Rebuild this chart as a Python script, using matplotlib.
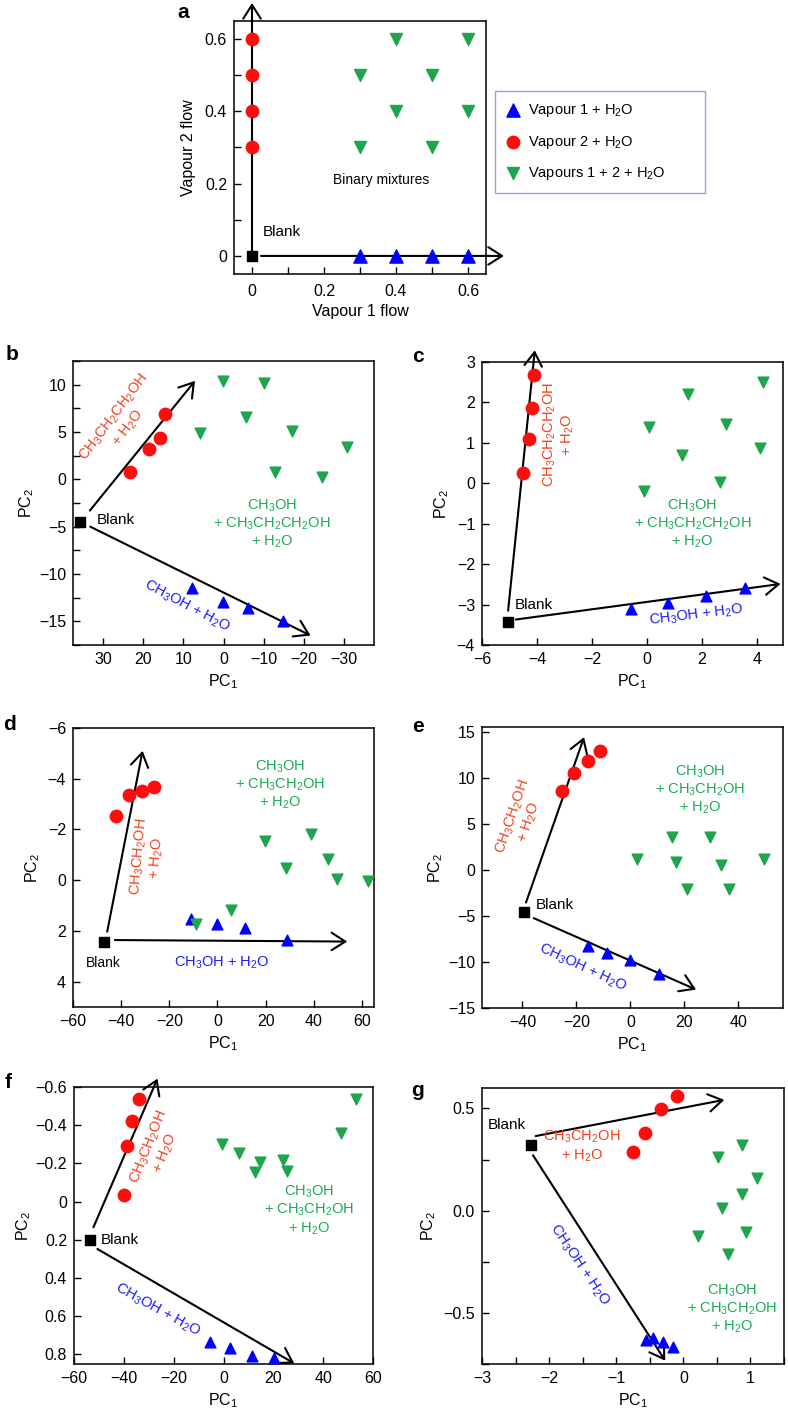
import matplotlib
matplotlib.use("Agg")
import matplotlib.pyplot as plt
from matplotlib.ticker import MultipleLocator

plt.rcParams['font.family'] = ['Liberation Sans', 'DejaVu Sans']
plt.rcParams['mathtext.fontset'] = 'custom'
plt.rcParams['mathtext.rm'] = 'Liberation Sans'
plt.rcParams['mathtext.it'] = 'Liberation Sans:italic'
plt.rcParams['mathtext.bf'] = 'Liberation Sans:bold'

RED = '#ff0d0d'
BLUE = '#0000ff'
GREEN = '#1ea54e'
RED_TXT = '#f2401f'
GREEN_TXT = '#1aaa55'
BLUE_TXT = '#1a1aff'

# ---- panel a: experiment design ----
a_red_x = [0, 0, 0, 0]
a_red_y = [0.3, 0.4, 0.5, 0.6]
a_blue_x = [0.3, 0.4, 0.5, 0.6]
a_blue_y = [0, 0, 0, 0]
a_green_x = [0.3, 0.5, 0.4, 0.6, 0.4, 0.6, 0.3, 0.5]
a_green_y = [0.5, 0.5, 0.6, 0.6, 0.4, 0.4, 0.3, 0.3]
a_arrows = [(0, 0, 0, 0.70), (0.025, 0, 0.70, 0)]
legend_labels = ['Vapour 1 + H$_2$O', 'Vapour 2 + H$_2$O', 'Vapours 1 + 2 + H$_2$O']

# ---- panel b ----
b_blank = (35.7, -4.5)
b_red = [(23.2, 0.8), (18.6, 3.2), (15.7, 4.4), (14.6, 6.9)]
b_blue = [(7.9, -11.5), (0.1, -13.0), (-6.2, -13.6), (-14.8, -15.0)]
b_green = [(0.2, 10.4), (-10.2, 10.2), (5.8, 4.9), (-5.6, 6.6),
           (-17.0, 5.1), (-30.8, 3.4), (-12.9, 0.8), (-24.5, 0.2)]
b_arrows = [(33.3, -3.3, 7.1, 10.4), (33.2, -5.0, -21.7, -16.5)]

# ---- panel c ----
c_blank = (-5.04, -3.42)
c_red = [(-4.5, 0.25), (-4.29, 1.10), (-4.19, 1.85), (-4.11, 2.67)]
c_blue = [(-0.58, -3.11), (0.78, -2.96), (2.16, -2.80), (3.56, -2.58)]
c_green = [(-0.1, -0.19), (0.06, 1.38), (1.29, 0.70), (1.49, 2.22),
           (2.67, 0.03), (2.86, 1.47), (4.13, 0.88), (4.22, 2.5)]
c_arrows = [(-5.05, -3.15, -4.08, 3.29), (-4.77, -3.37, 4.86, -2.49)]

# ---- panel d ----
d_blank = (-47.0, 2.42)
d_red = [(-42.3, -2.54), (-36.9, -3.34), (-31.5, -3.51), (-26.4, -3.69)]
d_blue = [(-11.1, 1.54), (0.0, 1.72), (11.5, 1.89), (28.8, 2.36)]
d_green = [(19.9, -1.56), (39.0, -1.84), (28.3, -0.5), (45.9, -0.85),
           (49.6, -0.05), (62.4, 0.05), (5.6, 1.17), (-9.1, 1.71)]
d_arrows = [(-45.8, 2.03, -31.1, -5.1), (-42.6, 2.36, 53.9, 2.42)]

# ---- panel e ----
e_blank = (-39.3, -4.54)
e_red = [(-25.3, 8.57), (-21.1, 10.5), (-15.8, 11.8), (-11.3, 12.9)]
e_blue = [(-15.8, -8.27), (-8.6, -8.98), (-0.3, -9.79), (10.6, -11.35)]
e_green = [(2.5, 1.13), (15.2, 3.54), (16.8, 0.88), (29.5, 3.54),
           (33.5, 0.56), (49.3, 1.13), (20.9, -2.13), (36.5, -2.06)]
e_arrows = [(-38.7, -3.55, -17.2, 14.4), (-35.8, -5.25, 24.3, -13.0)]

# ---- panel f ----
f_blank = (-53.7, 0.203)
f_red = [(-39.8, -0.035), (-38.8, -0.292), (-36.7, -0.423), (-34.0, -0.536)]
f_blue = [(-5.4, 0.736), (2.5, 0.765), (11.6, 0.809), (20.1, 0.817)]
f_green = [(53.1, -0.536), (47.1, -0.357), (-0.7, -0.301), (6.4, -0.252),
           (14.5, -0.209), (12.7, -0.157), (23.9, -0.218), (25.3, -0.162)]
f_arrows = [(-52.2, 0.134, -26.5, -0.644), (-50.6, 0.248, 28.4, 0.847)]

# ---- panel g ----
g_blank = (-2.27, 0.323)
g_red = [(-0.75, 0.287), (-0.57, 0.379), (-0.34, 0.498), (-0.09, 0.559)]
g_blue = [(-0.55, -0.632), (-0.45, -0.621), (-0.31, -0.640), (-0.16, -0.665)]
g_green = [(0.87, 0.323), (0.51, 0.263), (1.10, 0.161), (0.87, 0.081),
           (0.58, 0.015), (0.22, -0.123), (0.93, -0.104), (0.66, -0.21)]
g_arrows = [(-2.2, 0.365, 0.61, 0.542), (-2.24, 0.271, -0.27, -0.734)]

W, H = 788, 1419
fig = plt.figure(figsize=(W / 100, H / 100), dpi=100)


def axes_px(left, top, right, bottom):
    return fig.add_axes([left / W, 1 - bottom / H, (right - left) / W, (bottom - top) / H])


def style_axes(ax):
    for s in ax.spines.values():
        s.set_linewidth(1.1)
    ax.tick_params(direction='in', length=5, width=1.0, labelsize=11.5, pad=5)
    ax.tick_params(which='minor', direction='in', length=5, width=1.0)


def draw_arrows(ax, arrows):
    for x0, y0, x1, y1 in arrows:
        ax.annotate('', xy=(x1, y1), xytext=(x0, y0), annotation_clip=False,
                    arrowprops=dict(arrowstyle='->,head_length=0.55,head_width=0.35',
                                    lw=1.5, color='black', shrinkA=0, shrinkB=0,
                                    mutation_scale=18, clip_on=False))


def draw_points(ax, blank, red, blue, green, arrows):
    draw_arrows(ax, arrows)
    ax.scatter([p[0] for p in red], [p[1] for p in red], s=80, marker='o', color=RED, zorder=3)
    ax.scatter([p[0] for p in blue], [p[1] for p in blue], s=60, marker='^', color=BLUE, zorder=3)
    ax.scatter([p[0] for p in green], [p[1] for p in green], s=60, marker='v', color=GREEN, zorder=3)
    ax.scatter([blank[0]], [blank[1]], s=50, marker='s', color='black', zorder=4)


# ===== panel a =====
ax = axes_px(234, 21, 486, 274)
style_axes(ax)
ax.tick_params(axis='x', pad=7)
draw_arrows(ax, a_arrows)
h1 = ax.scatter(a_blue_x, a_blue_y, s=90, marker='^', color=BLUE, zorder=3)
h2 = ax.scatter(a_red_x, a_red_y, s=80, marker='o', color=RED, zorder=3)
h3 = ax.scatter(a_green_x, a_green_y, s=75, marker='v', color=GREEN, zorder=3)
ax.scatter([0], [0], s=55, marker='s', color='black', zorder=4)
ax.set_xlim(-0.05, 0.65)
ax.set_ylim(-0.05, 0.65)
ax.set_xticks([0, 0.2, 0.4, 0.6])
ax.set_xticklabels(['0', '0.2', '0.4', '0.6'])
ax.set_yticks([0, 0.2, 0.4, 0.6])
ax.set_yticklabels(['0', '0.2', '0.4', '0.6'])
ax.xaxis.set_minor_locator(MultipleLocator(0.1))
ax.yaxis.set_minor_locator(MultipleLocator(0.1))
ax.set_xlabel('Vapour 1 flow', fontsize=11.5, labelpad=4)
ax.set_ylabel('Vapour 2 flow', fontsize=11.5, labelpad=6)
ax.text(0.03, 0.065, 'Blank', fontsize=11, ha='left', va='center')
ax.text(0.36, 0.21, 'Binary mixtures', fontsize=10, ha='center', va='center')
leg = fig.legend([h1, h2, h3], legend_labels, loc='upper left', mode='expand',
                 bbox_to_anchor=(495 / W, 1 - 195 / H, 210 / W, 104 / H),
                 bbox_transform=fig.transFigure, borderaxespad=0,
                 fontsize=10.5, frameon=True, fancybox=False, handletextpad=0.5,
                 labelspacing=1.0, handlelength=1.0, borderpad=0.75, scatterpoints=1)
leg.get_frame().set_edgecolor('#6f8fd9')
leg.get_frame().set_linewidth(1.0)
fig.text(183 / W, 1 - 12 / H, 'a', fontsize=15, fontweight='bold', ha='center', va='center')

# ===== panel b =====
ax = axes_px(73, 361, 374, 645)
style_axes(ax)
draw_points(ax, b_blank, b_red, b_blue, b_green, b_arrows)
ax.set_xlim(37.5, -37.5)
ax.set_ylim(-17.5, 12.5)
ax.set_xticks([30, 20, 10, 0, -10, -20, -30])
ax.set_xticklabels(['30', '20', '10', '0', '\u221210', '\u221220', '\u221230'])
ax.set_yticks([10, 5, 0, -5, -10, -15])
ax.set_yticklabels(['10', '5', '0', '\u22125', '\u221210', '\u221215'])
ax.yaxis.set_minor_locator(MultipleLocator(2.5))
ax.set_xlabel('PC$_1$', fontsize=11.5)
ax.set_ylabel('PC$_2$', fontsize=11.5, labelpad=2)
ax.text(31.5, -4.3, 'Blank', fontsize=11, ha='left', va='center')
ax.text(25.5, 6.0, 'CH$_3$CH$_2$CH$_2$OH\n+ H$_2$O', color=RED_TXT, fontsize=10.5,
        ha='center', va='center', rotation=53, rotation_mode='anchor', linespacing=1.1)
ax.text(-12, -4.7, 'CH$_3$OH\n+ CH$_3$CH$_2$CH$_2$OH\n+ H$_2$O', color=GREEN_TXT,
        fontsize=10.5, ha='center', va='center', linespacing=1.15)
ax.text(9.0, -13.4, 'CH$_3$OH + H$_2$O', color=BLUE_TXT, fontsize=10.5,
        ha='center', va='center', rotation=-28, rotation_mode='anchor')
fig.text(12 / W, 1 - 355 / H, 'b', fontsize=15, fontweight='bold', ha='center', va='center')

# ===== panel c =====
ax = axes_px(482, 362, 783, 645)
style_axes(ax)
draw_points(ax, c_blank, c_red, c_blue, c_green, c_arrows)
ax.set_xlim(-6, 4.95)
ax.set_ylim(-4, 3)
ax.set_xticks([-6, -4, -2, 0, 2, 4])
ax.set_xticklabels(['\u22126', '\u22124', '\u22122', '0', '2', '4'])
ax.set_yticks([3, 2, 1, 0, -1, -2, -3, -4])
ax.set_yticklabels(['3', '2', '1', '0', '\u22121', '\u22122', '\u22123', '\u22124'])
ax.set_xlabel('PC$_1$', fontsize=11.5)
ax.set_ylabel('PC$_2$', fontsize=11.5, labelpad=4)
ax.text(-4.82, -3.0, 'Blank', fontsize=11, ha='left', va='center')
ax.text(-3.2, 1.2, 'CH$_3$CH$_2$CH$_2$OH\n+ H$_2$O', color=RED_TXT, fontsize=10.5,
        ha='center', va='center', rotation=90, rotation_mode='anchor', linespacing=1.1)
ax.text(1.65, -1.0, 'CH$_3$OH\n+ CH$_3$CH$_2$CH$_2$OH\n+ H$_2$O', color=GREEN_TXT,
        fontsize=10.5, ha='center', va='center', linespacing=1.15)
ax.text(1.8, -3.25, 'CH$_3$OH + H$_2$O', color=BLUE_TXT, fontsize=10.5,
        ha='center', va='center', rotation=7, rotation_mode='anchor')
fig.text(418 / W, 1 - 357 / H, 'c', fontsize=15, fontweight='bold', ha='center', va='center')

# ===== panel d =====
ax = axes_px(73, 728, 374, 1007)
style_axes(ax)
draw_points(ax, d_blank, d_red, d_blue, d_green, d_arrows)
ax.set_xlim(-60, 65)
ax.set_ylim(5, -6)
ax.set_xticks([-60, -40, -20, 0, 20, 40, 60])
ax.set_xticklabels(['\u221260', '\u221240', '\u221220', '0', '20', '40', '60'])
ax.set_yticks([-6, -4, -2, 0, 2, 4])
ax.set_yticklabels(['\u22126', '\u22124', '\u22122', '0', '2', '4'])
ax.set_xlabel('PC$_1$', fontsize=11.5)
ax.set_ylabel('PC$_2$', fontsize=11.5, labelpad=4)
ax.text(-47.5, 3.25, 'Blank', fontsize=10, ha='center', va='center')
ax.text(-28.8, -0.9, 'CH$_3$CH$_2$OH\n+ H$_2$O', color=RED_TXT, fontsize=10.5,
        ha='center', va='center', rotation=85, rotation_mode='anchor', linespacing=1.1)
ax.text(26, -3.75, 'CH$_3$OH\n+ CH$_3$CH$_2$OH\n+ H$_2$O', color=GREEN_TXT,
        fontsize=10.5, ha='center', va='center', linespacing=1.15)
ax.text(1.6, 3.27, 'CH$_3$OH + H$_2$O', color=BLUE_TXT, fontsize=10.5,
        ha='center', va='center')
fig.text(10 / W, 1 - 724 / H, 'd', fontsize=15, fontweight='bold', ha='center', va='center')

# ===== panel e =====
ax = axes_px(482, 727, 783, 1008)
style_axes(ax)
draw_points(ax, e_blank, e_red, e_blue, e_green, e_arrows)
ax.set_xlim(-55, 56.5)
ax.set_ylim(-15, 15.5)
ax.set_xticks([-40, -20, 0, 20, 40])
ax.set_xticklabels(['\u221240', '\u221220', '0', '20', '40'])
ax.set_yticks([15, 10, 5, 0, -5, -10, -15])
ax.set_yticklabels(['15', '10', '5', '0', '\u22125', '\u221210', '\u221215'])
ax.set_xlabel('PC$_1$', fontsize=11.5)
ax.set_ylabel('PC$_2$', fontsize=11.5, labelpad=2)
ax.text(-35, -3.8, 'Blank', fontsize=11, ha='left', va='center')
ax.text(-40.5, 5.4, 'CH$_3$CH$_2$OH\n+ H$_2$O', color=RED_TXT, fontsize=10.5,
        ha='center', va='center', rotation=71, rotation_mode='anchor', linespacing=1.1)
ax.text(25.8, 8.7, 'CH$_3$OH\n+ CH$_3$CH$_2$OH\n+ H$_2$O', color=GREEN_TXT,
        fontsize=10.5, ha='center', va='center', linespacing=1.15)
ax.text(-17.6, -10.6, 'CH$_3$OH + H$_2$O', color=BLUE_TXT, fontsize=10.5,
        ha='center', va='center', rotation=-25, rotation_mode='anchor')
fig.text(418 / W, 1 - 726 / H, 'e', fontsize=15, fontweight='bold', ha='center', va='center')

# ===== panel f =====
ax = axes_px(74, 1087, 373, 1364)
style_axes(ax)
draw_points(ax, f_blank, f_red, f_blue, f_green, f_arrows)
ax.set_xlim(-60, 60)
ax.set_ylim(0.85, -0.6)
ax.set_xticks([-60, -40, -20, 0, 20, 40, 60])
ax.set_xticklabels(['\u221260', '\u221240', '\u221220', '0', '20', '40', '60'])
ax.set_yticks([-0.6, -0.4, -0.2, 0, 0.2, 0.4, 0.6, 0.8])
ax.set_yticklabels(['\u22120.6', '\u22120.4', '\u22120.2', '0', '0.2', '0.4', '0.6', '0.8'])
ax.set_xlabel('PC$_1$', fontsize=11.5)
ax.set_ylabel('PC$_2$', fontsize=11.5, labelpad=2)
ax.text(-49.3, 0.2, 'Blank', fontsize=11, ha='left', va='center')
ax.text(-26.5, -0.27, 'CH$_3$CH$_2$OH\n+ H$_2$O', color=RED_TXT, fontsize=10.5,
        ha='center', va='center', rotation=68, rotation_mode='anchor', linespacing=1.1)
ax.text(34.4, 0.045, 'CH$_3$OH\n+ CH$_3$CH$_2$OH\n+ H$_2$O', color=GREEN_TXT,
        fontsize=10.5, ha='center', va='center', linespacing=1.15)
ax.text(-26.5, 0.565, 'CH$_3$OH + H$_2$O', color=BLUE_TXT, fontsize=10.5,
        ha='center', va='center', rotation=-29, rotation_mode='anchor')
fig.text(8 / W, 1 - 1083 / H, 'f', fontsize=15, fontweight='bold', ha='center', va='center')

# ===== panel g =====
ax = axes_px(482, 1088, 784, 1364)
style_axes(ax)
draw_points(ax, g_blank, g_red, g_blue, g_green, g_arrows)
ax.set_xlim(-3, 1.5)
ax.set_ylim(-0.75, 0.6)
ax.set_xticks([-3, -2, -1, 0, 1])
ax.set_xticklabels(['\u22123', '\u22122', '\u22121', '0', '1'])
ax.xaxis.set_minor_locator(MultipleLocator(0.5))
ax.set_yticks([0.5, 0.0, -0.5])
ax.set_yticklabels(['0.5', '0.0', '\u22120.5'])
ax.yaxis.set_minor_locator(MultipleLocator(0.25))
ax.set_xlabel('PC$_1$', fontsize=11.5)
ax.set_ylabel('PC$_2$', fontsize=11.5, labelpad=4)
ax.text(-2.92, 0.42, 'Blank', fontsize=11, ha='left', va='center')
ax.text(-1.51, 0.315, 'CH$_3$CH$_2$OH\n+ H$_2$O', color=RED_TXT, fontsize=10.5,
        ha='center', va='center', linespacing=1.15)
ax.text(0.73, -0.48, 'CH$_3$OH\n+ CH$_3$CH$_2$OH\n+ H$_2$O', color=GREEN_TXT,
        fontsize=10.5, ha='center', va='center', linespacing=1.15)
ax.text(-1.54, -0.265, 'CH$_3$OH + H$_2$O', color=BLUE_TXT, fontsize=10.5,
        ha='center', va='center', rotation=-56, rotation_mode='anchor')
fig.text(418 / W, 1 - 1090 / H, 'g', fontsize=15, fontweight='bold', ha='center', va='center')

fig.savefig('out.png', dpi=100)
